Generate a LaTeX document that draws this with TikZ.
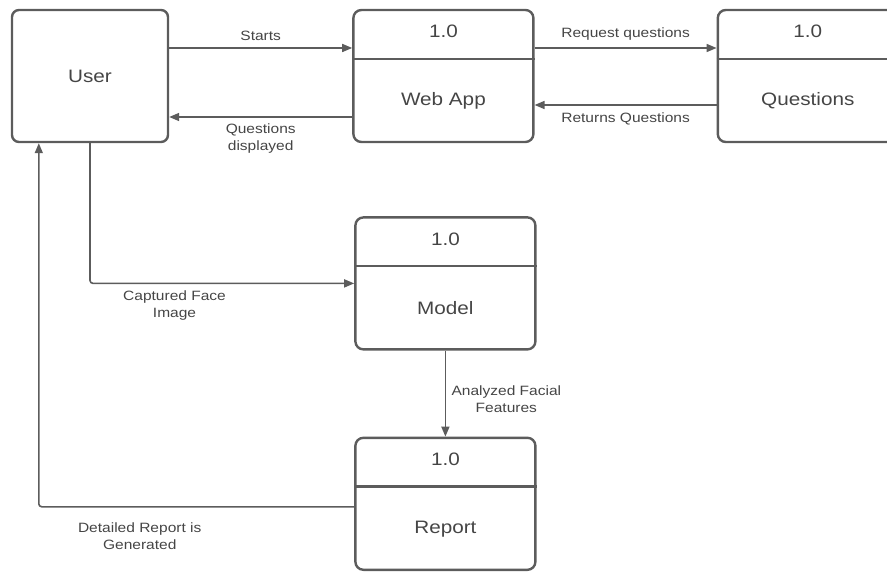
\documentclass[tikz,border=0pt]{standalone}
\usepackage{fontspec}
\setmainfont{Liberation Sans}[FakeStretch=1.15]
\usepackage{tikz}
\usetikzlibrary{positioning, arrows.meta}

\definecolor{linegray}{HTML}{5C5C5C}
\definecolor{textgray}{HTML}{454545}

\begin{document}
\begin{tikzpicture}[
  x=1pt, y=-1pt,
  font=\fontsize{18}{21}\selectfont, text=textgray,
  entity/.style={draw=linegray, line width=2.4pt, rounded corners=7pt, minimum width=156pt, minimum height=132pt},
  procbox/.style={draw=linegray, line width=2.4pt, rounded corners=8pt, minimum width=180pt, minimum height=132pt},
  arr/.style={-{Triangle[length=10pt, width=8pt]}, draw=linegray, line width=1.6pt},
  lbl/.style={font=\fontsize{13.5}{17}\selectfont, align=center}
]
\useasboundingbox (0,0) rectangle (887,572);
\clip (0,0) rectangle (887,572);

\node[entity] (user) at (90,76) {User};
\node[procbox, right=183pt of user] (webapp) {};
\node[procbox, right=182pt of webapp] (questions) {};
\node[procbox, below=73pt of webapp, xshift=2pt] (model) {};
\node[procbox, below=86pt of model] (report) {};

% number strip and name of each process
\foreach \p/\name in {webapp/Web App, questions/Questions, model/Model, report/Report} {
  \draw[linegray, line width=2.4pt] ([yshift=-50pt]\p.north west) -- ([yshift=-50pt]\p.north east);
  \node (\p-num) at ([yshift=-23pt]\p.north) {1.0};
  \node (\p-name) at ([yshift=-25pt]\p.center) {\name};
}

\draw[arr] ([yshift=28pt]user.east) -- node[lbl, above=3pt]{Starts} ([yshift=28pt]user.east -| webapp.west);
\draw[arr] ([yshift=-41pt]webapp.west) -- node[lbl, below=3pt]{Questions\\displayed} ([yshift=-41pt]webapp.west -| user.east);
\draw[arr] ([yshift=28pt]webapp.east) -- node[lbl, above=4pt]{Request questions} ([yshift=28pt]webapp.east -| questions.west);
\draw[arr] ([yshift=-29pt]questions.west) -- node[lbl, below=4pt]{Returns Questions} ([yshift=-29pt]questions.west -| webapp.east);
\draw[arr, rounded corners=3pt] (user.south) |- node[lbl, pos=0.66, below=3pt]{Captured Face\\Image} (model.west);
\draw[arr] (model.south) -- node[lbl, right=2pt, yshift=-6pt]{Analyzed Facial\\Features} (report.north);
\draw[arr, rounded corners=3pt] ([yshift=-3pt]report.west) -| node[lbl, pos=0.34, below=12pt]{Detailed Report is\\Generated} ([xshift=28pt]user.south west);

\end{tikzpicture}
\end{document}
